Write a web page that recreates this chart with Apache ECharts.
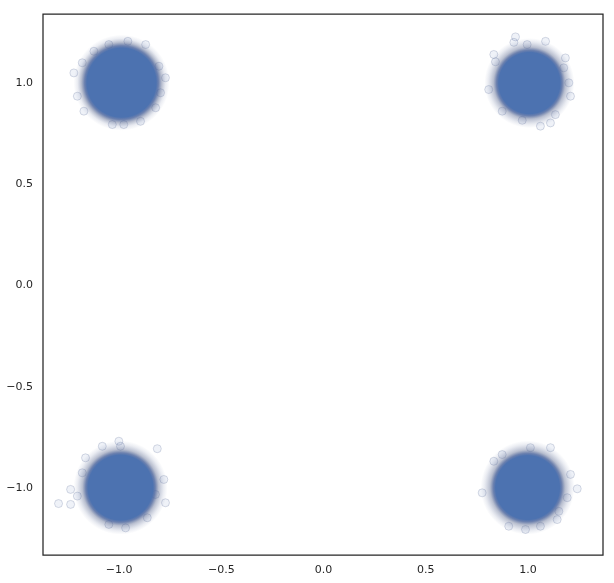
<!DOCTYPE html>
<html>
<head>
<meta charset="utf-8">
<style>
  html, body { margin: 0; padding: 0; background: #fff; }
  #chart { width: 614px; height: 583px; }
</style>
<script src="https://cdn.jsdelivr.net/npm/echarts@6/dist/echarts.min.js"></script>
</head>
<body>
<div id="chart"></div>
<script>
  // tick labels
  var xTicks = [-1.0, -0.5, 0.0, 0.5, 1.0]
  var yTicks = [-1.0, -0.5, 0.0, 0.5, 1.0]

  // the dense core of each cluster (top-left, top-right, bottom-left, bottom-right)
  var clusterX = [-0.988, 1.007, -0.993, 0.998]
  var clusterY = [1.002, 1.0, -0.998, -0.998]

  // loose points
  var strayX = [
    -1.18, -1.221, -0.773, -0.797, -0.957, -0.870, -1.050, -1.172, -1.033, -0.977,
    -0.895, -1.204, -0.821, -1.123, -0.805,
    0.939, 0.931, 1.086, 0.833, 0.841, 1.183, 1.175, 1.200, 1.208, 0.808,
    0.874, 0.972, 1.061, 1.134, 1.110, 0.996,
    -1.082, -0.993, -0.813, -1.001, -1.164, -1.180, -1.237, -1.204, -1.237, -0.781,
    -0.773, -1.050, -0.968, -0.862, -0.822, -1.296,
    1.110, 0.874, 0.833, 0.776, 1.208, 1.241, 1.192, 1.151, 0.988, 0.906,
    1.061, 1.143, 1.012
  ]
  var strayY = [
    1.10, 1.05, 1.026, 0.952, 1.206, 1.190, 1.190, 0.861, 0.795, 0.795,
    0.811, 0.935, 0.878, 1.157, 1.083,
    1.228, 1.201, 1.206, 1.141, 1.105, 1.124, 1.075, 1.001, 0.935, 0.968,
    0.861, 0.816, 0.787, 0.844, 0.803, 1.190,
    -0.794, -0.794, -0.806, -0.769, -0.851, -0.925, -1.007, -1.040, -1.081, -0.958,
    -1.073, -1.180, -1.197, -1.147, -1.032, -1.077,
    -0.801, -0.835, -0.868, -1.024, -0.933, -1.004, -1.048, -1.115, -1.205, -1.189,
    -1.189, -1.156, -0.801
  ]

  var blue = '#4c72b0'
  var coreSizes = [96, 90, 94, 94]
  var coreStops = [0.72, 0.68, 0.69, 0.68]

  function zip (xs, ys) {
    return xs.map(function (x, i) { return [x, ys[i]] })
  }

  function tickText (v) {
    return (v < 0 ? '\u2212' : '') + Math.abs(v).toFixed(1)
  }

  var coreData = zip(clusterX, clusterY).map(function (p, i) {
    var s = coreStops[i]
    return {
      value: p,
      symbolSize: coreSizes[i],
      itemStyle: {
        opacity: 1,
        color: new echarts.graphic.RadialGradient(0.5, 0.5, 0.5, [
          { offset: 0, color: blue },
          { offset: s, color: blue },
          { offset: s + 0.05, color: 'rgba(72,98,155,0.8)' },
          { offset: s + 0.12, color: 'rgba(85,100,140,0.42)' },
          { offset: 0.92, color: 'rgba(110,125,165,0.14)' },
          { offset: 1, color: 'rgba(120,135,175,0)' }
        ])
      }
    }
  })

  var chart = echarts.init(document.getElementById('chart'))
  var option = {
    animation: false,
    backgroundColor: '#fff',
    grid: {
      left: 43,
      right: 11,
      top: 14,
      bottom: 28,
      show: true,
      borderColor: '#262626',
      borderWidth: 1.25,
      backgroundColor: 'transparent'
    },
    xAxis: {
      type: 'value',
      min: -1.372,
      max: 1.367,
      axisLine: { show: false },
      axisTick: { show: false },
      splitLine: { show: false },
      axisLabel: {
        customValues: xTicks,
        formatter: tickText,
        color: '#262626',
        fontFamily: 'DejaVu Sans',
        fontSize: 11,
        margin: 10
      }
    },
    yAxis: {
      type: 'value',
      min: -1.331,
      max: 1.341,
      axisLine: { show: false },
      axisTick: { show: false },
      splitLine: { show: false },
      axisLabel: {
        customValues: yTicks,
        formatter: tickText,
        color: '#262626',
        fontFamily: 'DejaVu Sans',
        fontSize: 11,
        margin: 10
      }
    },
    series: [
      {
        type: 'scatter',
        data: zip(strayX, strayY),
        symbolSize: 8,
        itemStyle: {
          opacity: 1,
          color: 'rgba(76,114,176,0.09)',
          borderColor: 'rgba(60,80,130,0.2)',
          borderWidth: 1
        },
        z: 2
      },
      {
        type: 'scatter',
        data: coreData,
        z: 3
      }
    ]
  }
  chart.setOption(option)
</script>
</body>
</html>
